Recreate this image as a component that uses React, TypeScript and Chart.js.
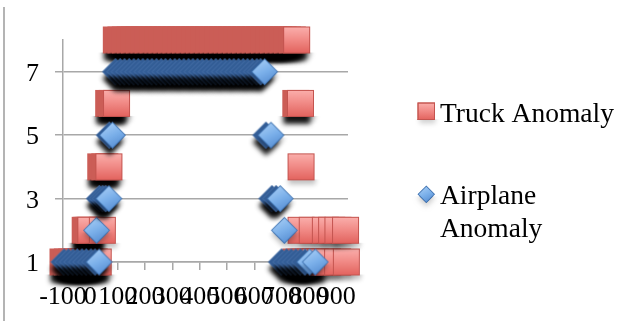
import { useEffect, useRef } from 'react';
import { Chart, registerables } from 'chart.js';

Chart.register(...registerables);

const xTickValues = [-100, 0, 100, 200, 300, 400, 500, 600, 700, 800, 900];
const yTickValues = [1, 3, 5, 7];

const seriesNames = ['Truck Anomaly', 'Airplane Anomaly'];

// Truck anomaly x positions, one list per level
const truckLevel1 = [-100, -84, -68, -51, -35, -18, -2, 14, 29, 752, 770, 787, 805, 823, 843, 868, 905, 937];
const truckLevel2 = [-19, -13, -5, 2, 44, 771, 812, 860, 883, 906, 934];
const truckLevel4 = [38, 53, 68, 771];
const truckLevel6 = [67, 80, 96, 752, 769];
const truckLevel8 = [
  95, 112, 128, 146, 161, 179, 196, 211, 229, 247, 262, 280, 297, 313, 331, 348, 364, 382, 399, 415,
  433, 450, 466, 484, 501, 517, 535, 552, 568, 586, 603, 619, 637, 654, 670, 688, 705, 721, 739, 755,
];

// Airplane anomaly x positions, one list per level
const planeLevel1 = [-96, -80, -63, -47, -30, -14, 3, 18, 32, 700, 718, 735, 752, 769, 786, 803, 823];
const planeLevel2 = [23, 710];
const planeLevel3 = [34, 46, 57, 68, 665, 680, 695];
const planeLevel5 = [70, 81, 643, 661];
const planeLevel7 = [
  93, 110, 126, 143, 160, 176, 193, 210, 226, 243, 260, 276, 293, 310, 326, 343, 360, 376, 393, 410,
  426, 443, 460, 476, 493, 510, 526, 543, 560, 576, 593, 610, 624, 638,
];

const truckLevels: [number, number[]][] = [
  [1, truckLevel1],
  [2, truckLevel2],
  [4, truckLevel4],
  [6, truckLevel6],
  [8, truckLevel8],
];
const planeLevels: [number, number[]][] = [
  [1, planeLevel1],
  [2, planeLevel2],
  [3, planeLevel3],
  [5, planeLevel5],
  [7, planeLevel7],
];

const toPoints = (levels: [number, number[]][]) =>
  levels.flatMap(([y, xs]) => xs.map((x) => ({ x, y })));

const FONT = "'Liberation Serif', 'DejaVu Serif', serif";
const GRID = '#a8a8a8';
const SQUARE = 27;
const DIAMOND_R = 13.5;
const PAD = 14;

function paintSquare(g: CanvasRenderingContext2D, x: number, y: number, s: number, face: boolean, shadow: number) {
  // drop shadow, kept below the marker so overlapping markers stay clean
  g.save();
  g.beginPath();
  g.rect(x - 20, y + s - 1, s + 40, 40);
  g.clip();
  g.shadowColor = `rgba(0,0,0,${shadow})`;
  g.shadowBlur = 5;
  g.shadowOffsetX = 1;
  g.shadowOffsetY = face ? 4 : 7;
  g.fillStyle = '#c95b55';
  g.fillRect(x, y, s, s);
  g.restore();
  if (face) {
    g.fillStyle = '#c95b55';
    g.fillRect(x, y, s, s);
    const lg = g.createLinearGradient(0, y, 0, y + s);
    lg.addColorStop(0, '#fbb0ad');
    lg.addColorStop(0.45, '#f28d89');
    lg.addColorStop(1, '#e2625d');
    g.fillStyle = lg;
    g.fillRect(x + 1, y + 1, s - 2, s - 2);
    g.strokeStyle = '#c4544f';
    g.lineWidth = 1;
    g.strokeRect(x + 0.5, y + 0.5, s - 1, s - 1);
  } else {
    g.fillStyle = '#cb5d56';
    g.fillRect(x, y, s, s);
  }
}

function diamondPath(g: CanvasRenderingContext2D, cx: number, cy: number, r: number) {
  g.beginPath();
  g.moveTo(cx - r, cy);
  g.lineTo(cx, cy - r);
  g.lineTo(cx + r, cy);
  g.lineTo(cx, cy + r);
  g.closePath();
}

function paintDiamond(g: CanvasRenderingContext2D, cx: number, cy: number, r: number, face: boolean, shadow: number) {
  g.save();
  g.beginPath();
  g.rect(cx - r - 20, cy + 2, 2 * r + 40, r + 30);
  g.clip();
  g.shadowColor = `rgba(0,0,0,${shadow})`;
  g.shadowBlur = 5;
  g.shadowOffsetX = 0;
  g.shadowOffsetY = face ? 4 : 7;
  diamondPath(g, cx, cy, r);
  g.fillStyle = '#345f98';
  g.fill();
  g.restore();
  if (face) {
    diamondPath(g, cx, cy, r);
    g.fillStyle = '#3f72b0';
    g.fill();
    const lg = g.createLinearGradient(cx - r * 0.5, cy - r, cx + r * 0.5, cy + r);
    lg.addColorStop(0, '#aacff6');
    lg.addColorStop(0.5, '#7bb0ea');
    lg.addColorStop(1, '#5289cf');
    diamondPath(g, cx, cy, r - 1.2);
    g.fillStyle = lg;
    g.fill();
  } else {
    diamondPath(g, cx, cy, r);
    g.fillStyle = '#335d96';
    g.fill();
    g.beginPath();
    g.moveTo(cx, cy - r);
    g.lineTo(cx - r, cy);
    g.lineTo(cx, cy + r);
    g.strokeStyle = 'rgba(90,128,182,0.8)';
    g.lineWidth = 0.7;
    g.stroke();
  }
}

function squareMarker(face: boolean) {
  const c = document.createElement('canvas');
  c.width = SQUARE + PAD * 2;
  c.height = SQUARE + PAD * 2;
  paintSquare(c.getContext('2d')!, PAD, PAD, SQUARE, face, face ? 0.25 : 0.9);
  return c;
}

function diamondMarker(face: boolean) {
  const c = document.createElement('canvas');
  const size = Math.ceil((DIAMOND_R + PAD) * 2);
  c.width = size;
  c.height = size;
  paintDiamond(c.getContext('2d')!, size / 2, size / 2, DIAMOND_R, face, face ? 0.25 : 0.9);
  return c;
}

// a marker mostly covered by its right neighbour shows only its darker edge
const pickStyle = (face: HTMLCanvasElement, body: HTMLCanvasElement) => (ctx: any) => {
  const data = ctx.dataset.data as { x: number; y: number }[];
  const p = data[ctx.dataIndex];
  const n = data[ctx.dataIndex + 1];
  return n && p && n.y === p.y && n.x - p.x < 20 ? body : face;
};

const frameAndLegend = {
  id: 'frameAndLegend',
  beforeDraw(chart: Chart) {
    const g = chart.ctx;
    g.save();
    g.fillStyle = '#ffffff';
    g.fillRect(0, 0, chart.width, chart.height);
    g.fillStyle = '#b4b4b4';
    g.fillRect(3, 7, 2, 314);
    g.restore();
  },
  afterDraw(chart: Chart) {
    const g = chart.ctx;
    g.save();
    paintSquare(g, 417.5, 102.5, 17.5, true, 0.18);
    paintDiamond(g, 426.3, 194.3, 8.8, true, 0.18);
    g.fillStyle = '#000000';
    g.font = `27.5px ${FONT}`;
    g.textAlign = 'left';
    g.textBaseline = 'alphabetic';
    g.fillText(seriesNames[0], 440, 121.5);
    const words = seriesNames[1].split(' ');
    g.fillText(words[0], 440, 204);
    g.fillText(words[1], 440, 237.3);
    g.restore();
  },
};

export default function App() {
  const ref = useRef<HTMLCanvasElement>(null);

  useEffect(() => {
    const canvas = ref.current;
    if (!canvas) return;
    const truckFace = squareMarker(true);
    const truckBody = squareMarker(false);
    const planeFace = diamondMarker(true);
    const planeBody = diamondMarker(false);

    const chart = new Chart(canvas, {
      type: 'scatter',
      data: {
        datasets: [
          {
            label: seriesNames[0],
            data: toPoints(truckLevels),
            order: 1,
            clip: false as any,
            pointStyle: pickStyle(truckFace, truckBody) as any,
            pointRadius: 13.5,
            pointBorderWidth: 0,
            pointBackgroundColor: '#c0504d',
          },
          {
            label: seriesNames[1],
            data: toPoints(planeLevels),
            order: 0,
            clip: false as any,
            pointStyle: pickStyle(planeFace, planeBody) as any,
            pointRadius: 13.5,
            pointBorderWidth: 0,
            pointBackgroundColor: '#4f81bd',
          },
        ],
      },
      options: {
        responsive: false,
        animation: false,
        devicePixelRatio: 1,
        events: [],
        layout: { padding: { top: 40, right: 296, bottom: 0, left: 0 } },
        plugins: { legend: { display: false }, tooltip: { enabled: false } },
        scales: {
          x: {
            type: 'linear',
            position: 'bottom',
            min: -100,
            max: 943,
            afterBuildTicks: (axis: any) => {
              axis.ticks = xTickValues.map((value) => ({ value }));
            },
            afterFit: (axis: any) => {
              axis.height = 66;
            },
            grid: { drawOnChartArea: false, drawTicks: true, tickLength: 8, color: GRID, lineWidth: 1.5 },
            border: { display: true, color: GRID, width: 1.5 },
            ticks: {
              autoSkip: false,
              maxRotation: 0,
              minRotation: 0,
              padding: 12,
              color: '#000000',
              font: { family: FONT, size: 26 },
              callback: (v: any) => String(v),
            },
          },
          y: {
            type: 'linear',
            min: 1,
            max: 8,
            afterBuildTicks: (axis: any) => {
              axis.ticks = yTickValues.map((value) => ({ value }));
            },
            afterFit: (axis: any) => {
              axis.width = 63;
            },
            grid: { drawOnChartArea: true, drawTicks: true, tickLength: 8, color: GRID, lineWidth: 1.5 },
            border: { display: true, color: GRID, width: 1.5 },
            ticks: {
              padding: 16,
              labelOffset: 2.5,
              color: '#000000',
              font: { family: FONT, size: 26 },
              callback: (v: any) => String(v),
            },
          },
        },
      },
      plugins: [frameAndLegend],
    });
    return () => chart.destroy();
  }, []);

  return (
    <div style={{ position: 'fixed', left: 0, top: 0, width: 644, height: 328, background: '#ffffff' }}>
      <canvas ref={ref} width={644} height={328} style={{ display: 'block' }} />
    </div>
  );
}
